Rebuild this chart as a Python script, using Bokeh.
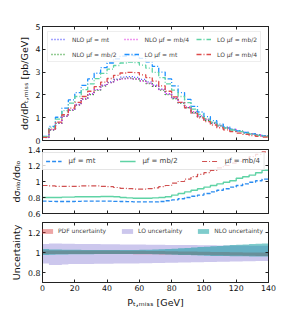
from bokeh.plotting import figure
from bokeh.layouts import column
from bokeh.models import (Range1d, LinearAxis, Legend, LegendItem, FixedTicker, Label,
                          CustomLabelingPolicy)
from bokeh.embed import file_html
from bokeh.resources import INLINE

# bin edges [GeV]
edges = list(range(0, 141, 4))

# top panel, units of 1e-3 pb/GeV
lo_mt = [0.18, 0.62, 1.02, 1.42, 1.78, 2.10, 2.42, 2.70, 2.95, 3.20, 3.40, 3.58, 3.70, 3.74, 3.72,
         3.60, 3.45, 3.25, 3.00, 2.70, 2.40, 2.10, 1.80, 1.50, 1.25, 1.05, 0.87, 0.72, 0.60, 0.50,
         0.42, 0.35, 0.29, 0.24, 0.20]
lo_mb2 = [0.17, 0.57, 0.94, 1.31, 1.64, 1.93, 2.23, 2.48, 2.71, 2.94, 3.13, 3.29, 3.40, 3.44, 3.42,
          3.31, 3.17, 2.99, 2.76, 2.48, 2.21, 1.93, 1.66, 1.38, 1.15, 0.96, 0.80, 0.66, 0.55, 0.46,
          0.39, 0.32, 0.27, 0.22, 0.18]
lo_mb4 = [0.14, 0.50, 0.81, 1.13, 1.42, 1.67, 1.93, 2.16, 2.36, 2.56, 2.72, 2.86, 2.96, 2.99, 2.98,
          2.88, 2.76, 2.60, 2.40, 2.16, 1.91, 1.67, 1.43, 1.19, 0.99, 0.83, 0.68, 0.56, 0.47, 0.39,
          0.32, 0.27, 0.22, 0.18, 0.15]
nlo_mt = [0.14, 0.47, 0.77, 1.07, 1.34, 1.58, 1.83, 2.04, 2.23, 2.42, 2.57, 2.69, 2.78, 2.80, 2.77,
          2.68, 2.57, 2.42, 2.25, 2.05, 1.85, 1.65, 1.44, 1.22, 1.04, 0.89, 0.76, 0.64, 0.55, 0.47,
          0.40, 0.34, 0.29, 0.24, 0.21]
nlo_mb2 = [0.14, 0.46, 0.75, 1.06, 1.32, 1.56, 1.81, 2.01, 2.20, 2.39, 2.54, 2.67, 2.72, 2.74, 2.70,
           2.62, 2.50, 2.38, 2.21, 2.01, 1.83, 1.64, 1.44, 1.23, 1.05, 0.89, 0.76, 0.64, 0.55, 0.47,
           0.41, 0.34, 0.29, 0.24, 0.21]
nlo_mb4 = [0.13, 0.47, 0.76, 1.06, 1.34, 1.57, 1.82, 2.04, 2.23, 2.41, 2.54, 2.65, 2.71, 2.72, 2.70,
           2.61, 2.51, 2.39, 2.24, 2.05, 1.87, 1.67, 1.47, 1.26, 1.08, 0.92, 0.78, 0.66, 0.56, 0.48,
           0.40, 0.35, 0.29, 0.24, 0.21]

# middle panel: NLO / LO
r_mt = [0.755, 0.752, 0.75, 0.75, 0.75, 0.752, 0.755, 0.755, 0.755, 0.755, 0.755, 0.752, 0.75, 0.748,
        0.745, 0.745, 0.745, 0.745, 0.75, 0.76, 0.77, 0.785, 0.80, 0.815, 0.83, 0.85, 0.87, 0.89,
        0.91, 0.93, 0.95, 0.97, 0.99, 1.01, 1.03]
r_mb2 = [0.80, 0.80, 0.80, 0.805, 0.805, 0.81, 0.81, 0.81, 0.81, 0.812, 0.812, 0.81, 0.80, 0.795,
         0.79, 0.79, 0.79, 0.795, 0.80, 0.81, 0.83, 0.85, 0.87, 0.89, 0.91, 0.93, 0.95, 0.97, 0.99,
         1.01, 1.04, 1.06, 1.08, 1.11, 1.14]
r_mb4 = [0.95, 0.945, 0.94, 0.94, 0.94, 0.94, 0.945, 0.945, 0.945, 0.94, 0.935, 0.925, 0.915, 0.91,
         0.905, 0.905, 0.91, 0.92, 0.935, 0.95, 0.98, 1.0, 1.03, 1.06, 1.09, 1.11, 1.14, 1.17, 1.2,
         1.23, 1.25, 1.28, 1.31, 1.34, 1.37]

# bottom panel: uncertainty bands
lo_lo = [0.89, 0.875, 0.875, 0.88, 0.885, 0.885, 0.885, 0.885, 0.887, 0.888, 0.888, 0.89, 0.89, 0.89,
         0.89, 0.892, 0.893, 0.895, 0.895, 0.897, 0.898, 0.9, 0.9, 0.902, 0.903, 0.905, 0.905, 0.907,
         0.908, 0.91, 0.91, 0.912, 0.913, 0.915, 0.915]
lo_hi = [1.085, 1.09, 1.09, 1.088, 1.087, 1.086, 1.085, 1.085, 1.084, 1.083, 1.082, 1.082, 1.081, 1.08,
         1.08, 1.079, 1.078, 1.078, 1.077, 1.076, 1.076, 1.075, 1.074, 1.074, 1.073, 1.072, 1.072,
         1.071, 1.07, 1.07, 1.07, 1.069, 1.068, 1.068, 1.067]
nlo_lo = [0.975, 0.978, 0.98, 0.98, 0.982, 0.982, 0.983, 0.983, 0.984, 0.984, 0.985, 0.985, 0.985,
          0.985, 0.985, 0.985, 0.984, 0.983, 0.982, 0.98, 0.978, 0.976, 0.974, 0.972, 0.97, 0.968,
          0.966, 0.965, 0.964, 0.963, 0.962, 0.962, 0.961, 0.961, 0.96]
nlo_hi = [1.035, 1.03, 1.03, 1.028, 1.027, 1.027, 1.026, 1.026, 1.025, 1.025, 1.025, 1.025, 1.025,
          1.026, 1.026, 1.027, 1.028, 1.03, 1.032, 1.035, 1.038, 1.042, 1.046, 1.05, 1.054, 1.058,
          1.062, 1.066, 1.07, 1.074, 1.078, 1.081, 1.084, 1.087, 1.09]
pdf_lo = [0.985, 0.985, 0.985, 0.985, 0.985, 0.985, 0.985, 0.985, 0.985, 0.985, 0.985, 0.984, 0.984,
          0.984, 0.983, 0.983, 0.982, 0.982, 0.981, 0.98, 0.979, 0.978, 0.977, 0.976, 0.975, 0.974,
          0.973, 0.972, 0.971, 0.970, 0.969, 0.968, 0.967, 0.966, 0.965]
pdf_hi = [1.02, 1.02, 1.02, 1.02, 1.02, 1.02, 1.02, 1.02, 1.02, 1.02, 1.019, 1.019, 1.018, 1.018,
          1.017, 1.017, 1.016, 1.015, 1.014, 1.013, 1.012, 1.011, 1.01, 1.009, 1.008, 1.007, 1.006,
          1.005, 1.004, 1.003, 1.002, 1.001, 1.0, 1.0, 1.0]

x_ticks = [0, 20, 40, 60, 80, 100, 120, 140]
FONT = "DejaVu Sans"


def ext(v):
    return list(v) + [v[-1]]


xr = Range1d(0, 140)

NO_LABELS = "for (const i of Array.from(indices)) { indices.unset(i) }\nreturn indices"


def make_fig(h, ylo, yhi, yticks, btop, bbot, ylabel, xlabel=None):
    p = figure(width=282, height=h, x_range=xr, y_range=Range1d(ylo, yhi),
               output_backend="svg", toolbar_location=None,
               x_axis_location=None, y_axis_location=None,
               min_border_left=42, min_border_right=14,
               min_border_top=btop, min_border_bottom=bbot)
    p.outline_line_color = "#222222"
    p.outline_line_width = 1
    for g in p.grid:
        g.visible = False
    for side, ticks, lab in (("left", yticks, ylabel), ("right", yticks, None),
                             ("below", x_ticks, xlabel), ("above", x_ticks, None)):
        ax = LinearAxis(ticker=FixedTicker(ticks=ticks))
        ax.major_tick_in = 3
        ax.major_tick_out = 0
        ax.minor_tick_line_color = None
        ax.axis_line_color = "#222222"
        ax.major_tick_line_color = "#222222"
        show_labels = (side == "left") or (side == "below" and xlabel is not None)
        if show_labels:
            ax.major_label_text_font_size = "7.8px"
            ax.major_label_text_font = FONT
            ax.major_label_text_color = "#111111"
            ax.major_label_standoff = 2
        else:
            ax.major_label_text_font_size = "1px"
            ax.major_label_standoff = 0
            ax.major_label_policy = CustomLabelingPolicy(code=NO_LABELS)
        if lab:
            ax.axis_label = lab
            ax.axis_label_text_font_size = "9.5px"
            ax.axis_label_text_font = FONT
            ax.axis_label_text_font_style = "normal"
            ax.axis_label_standoff = 3
            ax.axis_label_text_color = "#111111"
        p.add_layout(ax, side)
    return p


# ---------- top panel ----------
p1 = make_fig(144, 0, 5, [0, 1, 2, 3, 4, 5], 26, 3, "dσ/dPₜ,ₘᵢₛₛ [pb/GeV]")
xe = edges
r_nlo_mt = p1.step(xe, ext(nlo_mt), mode="after", line_color="#4a4aff", line_width=1.4, line_dash="1 2")
r_nlo_mb2 = p1.step(xe, ext(nlo_mb2), mode="after", line_color="#2a9a2a", line_width=1.4, line_dash="1 2")
r_nlo_mb4 = p1.step(xe, ext(nlo_mb4), mode="after", line_color="#e030e0", line_width=1.4, line_dash="1 2")
r_lo_mt = p1.step(xe, ext(lo_mt), mode="after", line_color="#1e90ff", line_width=1.3, line_dash="5 2 1 2")
r_lo_mb2 = p1.step(xe, ext(lo_mb2), mode="after", line_color="#5fd3a5", line_width=1.3, line_dash="5 2 1 2")
r_lo_mb4 = p1.step(xe, ext(lo_mb4), mode="after", line_color="#dd4b4b", line_width=1.3, line_dash="5 2 1 2")

leg1 = Legend(items=[
    LegendItem(label="NLO μf = mt", renderers=[r_nlo_mt]),
    LegendItem(label="NLO μf = mb/2", renderers=[r_nlo_mb2]),
    LegendItem(label="NLO μf = mb/4", renderers=[r_nlo_mb4]),
    LegendItem(label="LO μf = mt", renderers=[r_lo_mt]),
    LegendItem(label="LO μf = mb/2", renderers=[r_lo_mb2]),
    LegendItem(label="LO μf = mb/4", renderers=[r_lo_mb4]),
], orientation="vertical", nrows=2, location="top_left")
leg1.label_text_font_size = "6px"
leg1.label_text_font = FONT
leg1.glyph_width = 15
leg1.glyph_height = 8
leg1.label_height = 8
leg1.label_standoff = 6
leg1.spacing = 7
leg1.padding = 3
leg1.margin = 5
leg1.border_line_color = "#dddddd"
leg1.background_fill_alpha = 0.8
p1.add_layout(leg1)

p1.add_layout(Label(x=0, y=5, x_units="data", y_units="data", text="×10⁻³",
                    text_font_size="7px", text_font=FONT, text_baseline="bottom",
                    y_offset=1, text_color="#111111"))

# ---------- middle panel ----------
p2 = make_fig(73, 0.6, 1.4, [0.6, 0.8, 1.0, 1.2, 1.4], 5, 4, "dσₙₗₒ/dσₗₒ")
q_mt = p2.step(xe, ext(r_mt), mode="after", line_color="#2b8cf0", line_width=1.4, line_dash="4 2")
q_mb2 = p2.step(xe, ext(r_mb2), mode="after", line_color="#5fd3a5", line_width=1.4)
q_mb4 = p2.step(xe, ext(r_mb4), mode="after", line_color="#d05050", line_width=1.2, line_dash="5 2 1 2")
leg2 = Legend(items=[
    LegendItem(label="μf = mt", renderers=[q_mt]),
    LegendItem(label="μf = mb/2", renderers=[q_mb2]),
    LegendItem(label="μf = mb/4", renderers=[q_mb4]),
], orientation="horizontal", location="top_right")
leg2.label_text_font_size = "7px"
leg2.label_text_font = FONT
leg2.glyph_width = 16
leg2.glyph_height = 8
leg2.label_height = 8
leg2.label_standoff = 7
leg2.spacing = 24
leg2.padding = 4
leg2.margin = 3
leg2.border_line_color = "#cccccc"
leg2.background_fill_alpha = 0.8
p2.add_layout(leg2)

# ---------- bottom panel ----------
p3 = make_fig(93, 0.7, 1.3, [0.8, 1.0, 1.2], 5, 24, "Uncertainty", "Pₜ,ₘᵢₛₛ [GeV]")
b_lo = p3.varea_step(x=xe, y1=ext(lo_lo), y2=ext(lo_hi), step_mode="after",
                     fill_color="#7a6cd0", fill_alpha=0.38)
b_pdf = p3.varea_step(x=xe, y1=ext(pdf_lo), y2=ext(pdf_hi), step_mode="after",
                      fill_color="#d83838", fill_alpha=0.45)
b_nlo = p3.varea_step(x=xe, y1=ext(nlo_lo), y2=ext(nlo_hi), step_mode="after",
                      fill_color="#009a9a", fill_alpha=0.5)
leg3 = Legend(items=[
    LegendItem(label="PDF uncertainty", renderers=[b_pdf]),
    LegendItem(label="LO uncertainty", renderers=[b_lo]),
    LegendItem(label="NLO uncertainty", renderers=[b_nlo]),
], orientation="horizontal", location="top_right")
leg3.label_text_font_size = "6px"
leg3.label_text_font = FONT
leg3.glyph_width = 14
leg3.glyph_height = 6
leg3.label_height = 6
leg3.label_standoff = 4
leg3.spacing = 14
leg3.padding = 2
leg3.margin = 3
leg3.border_line_alpha = 0
leg3.background_fill_alpha = 0
p3.add_layout(leg3)

layout = column(p1, p2, p3, spacing=0)
open("out.html", "w").write(file_html(layout, INLINE))
